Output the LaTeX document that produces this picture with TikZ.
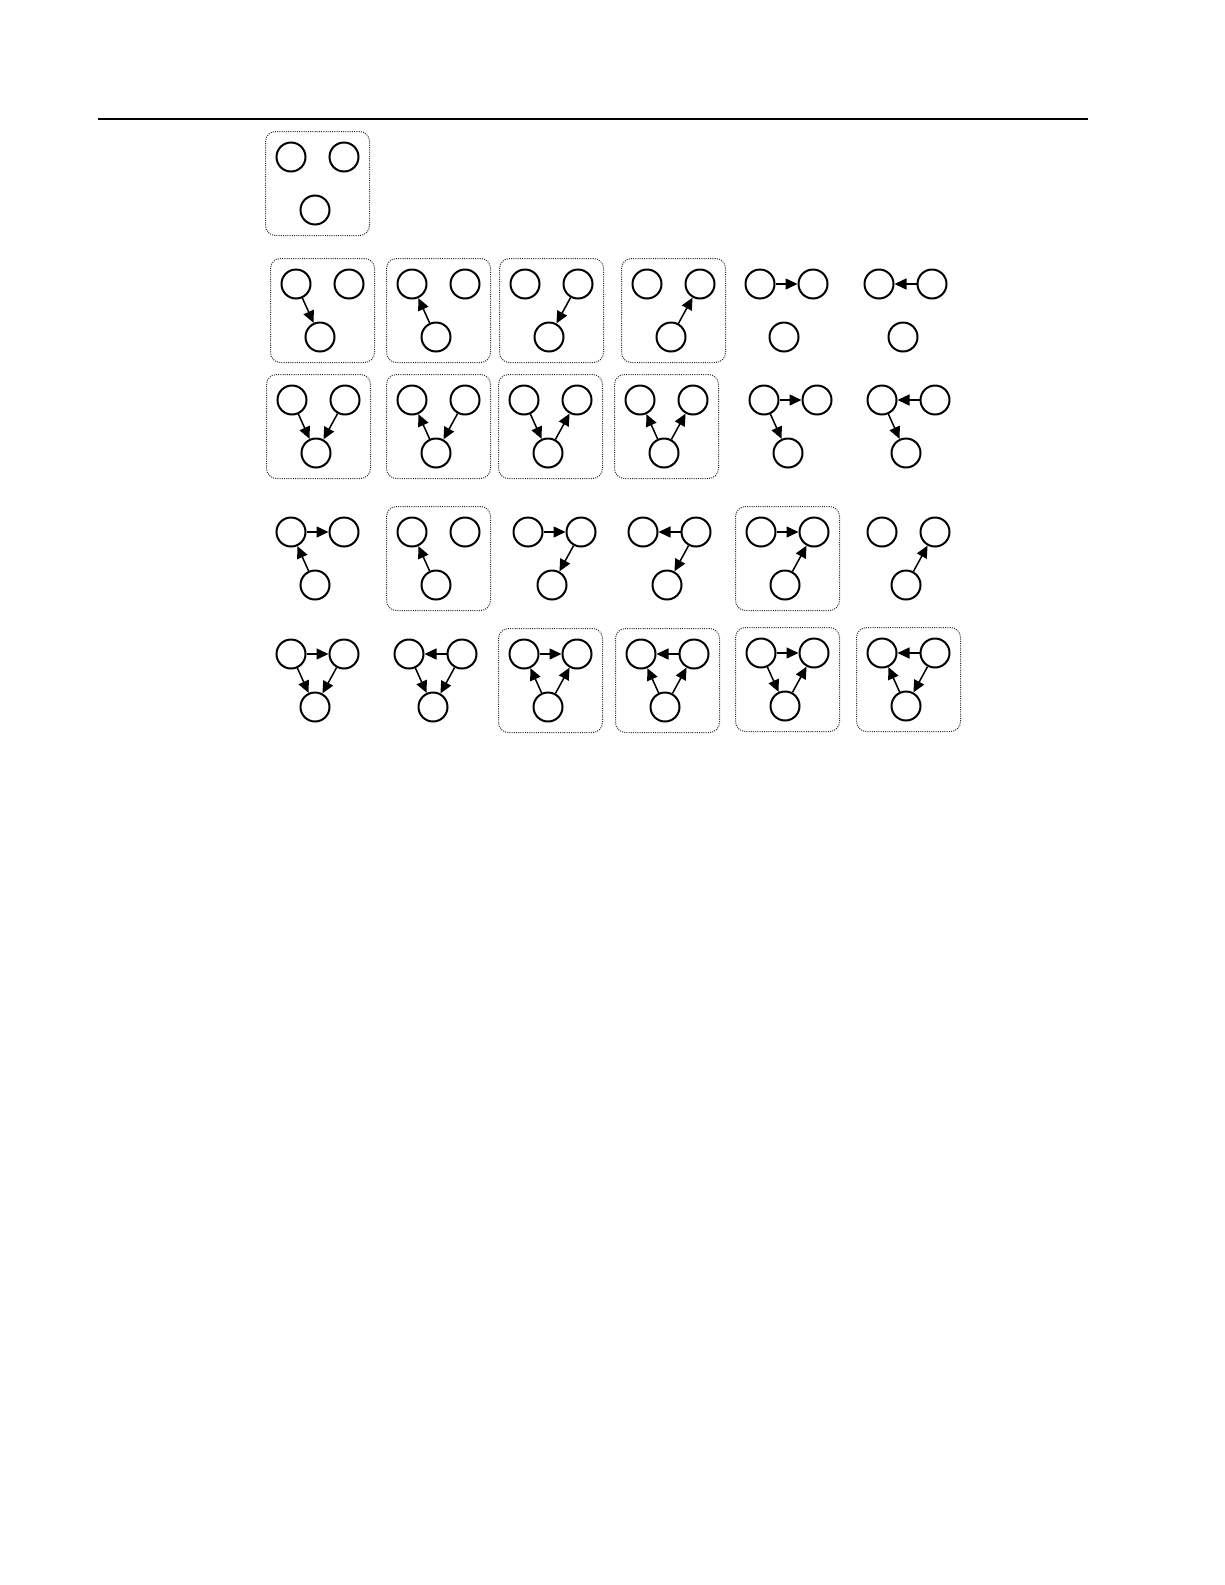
\documentclass[tikz,border=0pt]{standalone}
\usetikzlibrary{arrows.meta,fit}

\begin{document}
\begin{tikzpicture}[
    x=0.5pt, y=-0.5pt,
    vertex/.style={
        circle,
        draw=black,
        line width=1pt,
        minimum size=14.5pt,
        inner sep=0pt
    },
    edge/.style={
        line width=0.75pt,
        -{Triangle[length=6pt,width=5.5pt]}
    },
    group/.style={
        rectangle,
        rounded corners=5pt,
        draw=black!85,
        dash pattern=on 0.5pt off 0.6pt,
        line width=0.5pt,
        inner sep=5pt
    }
]
\useasboundingbox (0,0) rectangle (1225,1585);

\draw[line width=1pt] (98,119) -- (1088,119);

% three vertices per graph: a top left, b top right, c bottom
\foreach \g/\x/\y in {r1c1/291/157,
    r2c1/296/284, r2c2/412/284, r2c3/525/284, r2c4/647/284, r2c5/760/284, r2c6/879/284,
    r3c1/292/400, r3c2/412/400, r3c3/524/400, r3c4/640/400, r3c5/764/400, r3c6/882/400,
    r4c1/291/532, r4c2/412/532, r4c3/528/532, r4c4/643/532, r4c5/761/532, r4c6/882/532,
    r5c1/291/654, r5c2/409/654, r5c3/524/654, r5c4/641/654, r5c5/761/653, r5c6/882/653}
{
    \node[vertex] (\g-a) at (\x,\y) {};
    \node[vertex] (\g-b) at (\x+53,\y) {};
    \node[vertex] (\g-c) at (\x+24,\y+53) {};
}

\foreach \s/\t in {r2c1-a/r2c1-c, r2c2-c/r2c2-a, r2c3-b/r2c3-c, r2c4-c/r2c4-b,
    r2c5-a/r2c5-b, r2c6-b/r2c6-a,
    r3c1-a/r3c1-c, r3c1-b/r3c1-c, r3c2-c/r3c2-a, r3c2-b/r3c2-c,
    r3c3-a/r3c3-c, r3c3-c/r3c3-b, r3c4-c/r3c4-a, r3c4-c/r3c4-b,
    r3c5-a/r3c5-b, r3c5-a/r3c5-c, r3c6-b/r3c6-a, r3c6-a/r3c6-c,
    r4c1-a/r4c1-b, r4c1-c/r4c1-a, r4c2-c/r4c2-a, r4c3-a/r4c3-b, r4c3-b/r4c3-c,
    r4c4-b/r4c4-a, r4c4-b/r4c4-c, r4c5-a/r4c5-b, r4c5-c/r4c5-b, r4c6-c/r4c6-b,
    r5c1-a/r5c1-b, r5c1-a/r5c1-c, r5c1-b/r5c1-c,
    r5c2-b/r5c2-a, r5c2-a/r5c2-c, r5c2-b/r5c2-c,
    r5c3-a/r5c3-b, r5c3-c/r5c3-a, r5c3-c/r5c3-b,
    r5c4-b/r5c4-a, r5c4-c/r5c4-a, r5c4-c/r5c4-b,
    r5c5-a/r5c5-b, r5c5-a/r5c5-c, r5c5-c/r5c5-b,
    r5c6-b/r5c6-a, r5c6-c/r5c6-a, r5c6-b/r5c6-c}
{
    \draw[edge] (\s) -- (\t);
}

% dotted frames
\foreach \g in {r1c1, r2c1, r2c2, r2c3, r2c4, r3c1, r3c2, r3c3, r3c4,
    r4c2, r4c5, r5c3, r5c4, r5c5, r5c6}
{
    \node[group, fit=(\g-a)(\g-b)(\g-c)] (\g-box) {};
}

\end{tikzpicture}
\end{document}
